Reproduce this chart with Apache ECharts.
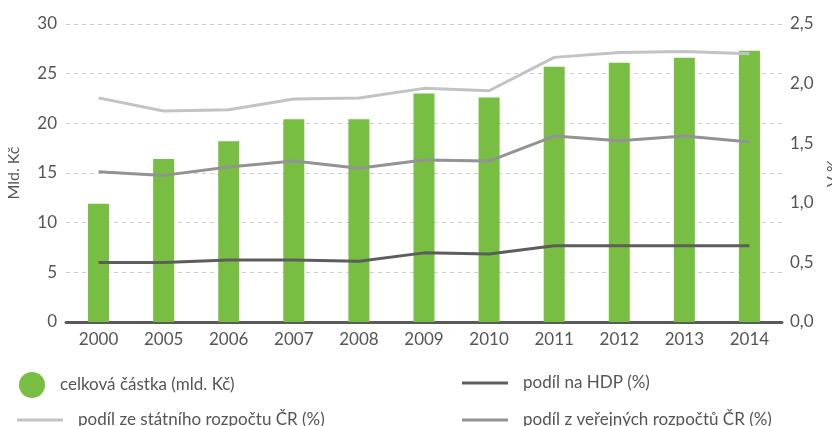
<!DOCTYPE html>
<html>
<head>
<meta charset="utf-8">
<script src="https://cdn.jsdelivr.net/npm/echarts@6/dist/echarts.min.js"></script>
<style>
  html, body { margin: 0; padding: 0; background: #fff; }
  #chart { width: 832px; height: 426px; }
</style>
</head>
<body>
<div id="chart"></div>
<script>
// roky
var roky = ['2000', '2005', '2006', '2007', '2008', '2009', '2010', '2011', '2012', '2013', '2014'];
// celková částka (mld. Kč)
var castka = [11.9, 16.4, 18.2, 20.4, 20.4, 23.0, 22.6, 25.7, 26.1, 26.6, 27.3];
// podíl na HDP (%)
var podilHdp = [0.50, 0.50, 0.52, 0.52, 0.51, 0.58, 0.57, 0.64, 0.64, 0.64, 0.64];
// podíl ze státního rozpočtu ČR (%)
var podilStatni = [1.88, 1.77, 1.78, 1.87, 1.88, 1.96, 1.94, 2.22, 2.26, 2.27, 2.25];
// podíl z veřejných rozpočtů ČR (%)
var podilVerejne = [1.26, 1.23, 1.30, 1.35, 1.29, 1.36, 1.35, 1.56, 1.52, 1.56, 1.51];

var font = 'Lato';
var textColor = '#555';

var chart = echarts.init(document.getElementById('chart'));

// jedna položka legendy = jedna komponenta, kvůli rozložení 2x2
function legenda(nazev, left, top, icon, w, h) {
    return {
        data: [{ name: nazev, icon: icon }],
        left: left,
        top: top,
        padding: 0,
        itemWidth: w,
        itemHeight: h,
        itemGap: 0,
        textStyle: { color: textColor, fontSize: 17, lineHeight: 20, fontFamily: font, padding: [0, 0, 0, 10] }
    };
}

var option = {
    animation: false,
    textStyle: { fontFamily: font },
    grid: { left: 66, right: 50, top: 24, bottom: 104, containLabel: false, outerBoundsMode: 'none' },
    legend: [
        legenda('celková částka (mld. Kč)', 19, 372, 'circle', 26, 26),
        legenda('podíl na HDP (%)', 462, 373, 'rect', 46, 3),
        legenda('podíl ze státního rozpočtu ČR (%)', 17, 410, 'rect', 46, 3),
        legenda('podíl z veřejných rozpočtů ČR (%)', 462, 410, 'rect', 46, 3)
    ],
    xAxis: {
        type: 'category',
        data: roky,
        axisLine: { lineStyle: { color: '#5a5a5a', width: 3 } },
        axisTick: { show: false },
        axisLabel: { color: textColor, fontSize: 17, margin: 9 }
    },
    yAxis: [
        {
            type: 'value',
            min: 0, max: 30, interval: 5,
            name: 'Mld. Kč',
            nameLocation: 'middle',
            nameRotate: 90,
            nameGap: 44,
            nameTextStyle: { color: textColor, fontSize: 16 },
            axisLine: { show: false },
            axisTick: { show: false },
            axisLabel: { color: textColor, fontSize: 17, margin: 9 },
            splitLine: { lineStyle: { color: '#cfcfcf', type: [4, 4] } }
        },
        {
            type: 'value',
            min: 0, max: 2.5, interval: 0.5,
            name: 'V %',
            nameLocation: 'middle',
            nameRotate: 90,
            nameGap: 38,
            nameTextStyle: { color: textColor, fontSize: 16 },
            axisLine: { show: false },
            axisTick: { show: false },
            axisLabel: {
                color: textColor, fontSize: 17, margin: 8,
                formatter: function (v) { return v.toFixed(1).replace('.', ','); }
            },
            splitLine: { show: false }
        }
    ],
    series: [
        {
            name: 'celková částka (mld. Kč)',
            type: 'bar',
            data: castka,
            barWidth: 21,
            itemStyle: { color: '#77be43' },
            z: 1
        },
        {
            name: 'podíl na HDP (%)',
            type: 'line',
            yAxisIndex: 1,
            data: podilHdp,
            symbol: 'none',
            lineStyle: { color: '#5d5d5d', width: 3 },
            itemStyle: { color: '#5d5d5d' },
            z: 3
        },
        {
            name: 'podíl ze státního rozpočtu ČR (%)',
            type: 'line',
            yAxisIndex: 1,
            data: podilStatni,
            symbol: 'none',
            lineStyle: { color: '#c3c3c5', width: 3 },
            itemStyle: { color: '#c3c3c5' },
            z: 3
        },
        {
            name: 'podíl z veřejných rozpočtů ČR (%)',
            type: 'line',
            yAxisIndex: 1,
            data: podilVerejne,
            symbol: 'none',
            lineStyle: { color: '#939395', width: 3 },
            itemStyle: { color: '#939395' },
            z: 3
        }
    ]
};

chart.setOption(option);
</script>
</body>
</html>
